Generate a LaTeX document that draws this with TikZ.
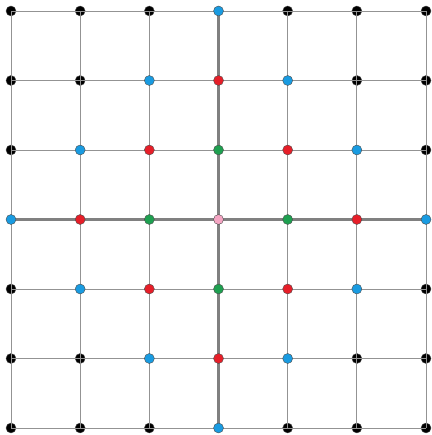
\documentclass[tikz,border=0pt]{standalone}
\begin{document}
\begin{tikzpicture}[x=1pt,y=1pt,
  thin grid/.style={draw=gray!85, line width=0.9pt},
  thick grid/.style={draw=gray, line width=2.2pt},
  dot/.style={circle, inner sep=0pt, minimum size=10pt, draw=black!70, line width=0.4pt},
  c0/.style={dot, fill=pink!70!magenta!35},
  c1/.style={dot, fill=green!60!black!90!white},
  c2/.style={dot, fill=red!90!black},
  c3/.style={dot, fill=cyan!60!blue!90!white},
  c4/.style={dot, fill=black},
]
\useasboundingbox (0,0) rectangle (431,435);
\definecolor{cpink}{RGB}{245,165,195}
\definecolor{cgreen}{RGB}{30,160,80}
\definecolor{cred}{RGB}{230,30,40}
\definecolor{cblue}{RGB}{25,155,225}
\tikzset{c0/.style={dot, fill=cpink}, c1/.style={dot, fill=cgreen}, c2/.style={dot, fill=cred}, c3/.style={dot, fill=cblue}}
% coordinates
\foreach \i in {0,...,6} {
  \foreach \j in {0,...,6} {
    \coordinate (p\i\j) at ({11+\i*69.17},{435-11-\j*69.5});
  }
}
% black dots first
\foreach \i in {0,...,6} {
  \foreach \j in {0,...,6} {
    \pgfmathtruncatemacro{\d}{abs(\i-3)+abs(\j-3)}
    \ifnum\d>3
      \node[c4] (n\i\j) at (p\i\j) {};
    \fi
  }
}
% thin grid lines
\foreach \k in {0,...,6} {
  \draw[thin grid] (p\k0) -- (p\k6);
  \draw[thin grid] (p0\k) -- (p6\k);
}
% thick centre lines
\draw[thick grid] (p30) -- (p36);
\draw[thick grid] (p03) -- (p63);
% coloured dots
\foreach \i in {0,...,6} {
  \foreach \j in {0,...,6} {
    \pgfmathtruncatemacro{\d}{abs(\i-3)+abs(\j-3)}
    \ifnum\d<4
      \node[c\d] (n\i\j) at (p\i\j) {};
    \fi
  }
}
\end{tikzpicture}
\end{document}
